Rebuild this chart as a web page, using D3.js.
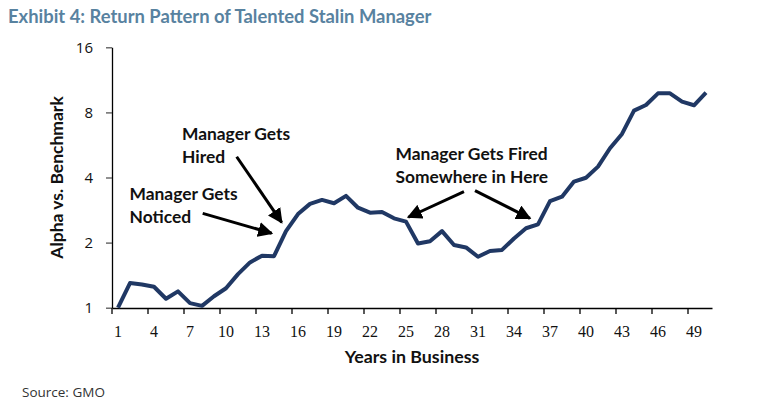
<!DOCTYPE html>
<html>
<head>
<meta charset="utf-8">
<script src="https://cdn.jsdelivr.net/npm/d3@7"></script>
<style>
  body { margin: 0; background: #fff; }
  svg { display: block; }
</style>
</head>
<body>
<div class="chart-container"><svg id="chart"></svg></div>
<script>
// years 1..50 in business
const years = d3.range(1, 51);
// cumulative alpha vs benchmark (log scale)
const alpha = [
    1.00, 1.30, 1.28, 1.25, 1.10, 1.19, 1.05, 1.02, 1.13, 1.23,
    1.43, 1.62, 1.74, 1.73, 2.26, 2.71, 3.02, 3.15, 3.04, 3.29,
    2.90, 2.75, 2.77, 2.59, 2.50, 1.98, 2.03, 2.26, 1.95, 1.90,
    1.72, 1.83, 1.85, 2.09, 2.33, 2.43, 3.11, 3.26, 3.83, 3.99,
    4.49, 5.46, 6.36, 8.15, 8.66, 9.80, 9.80, 8.97, 8.63, 9.87
];
const yTicks = [1, 2, 4, 8, 16];
const xTickYears = years.filter(d => (d - 1) % 3 === 0);

// annotations: text lines anchored at (year, value) of the first baseline
const notes = [
    { lines: ["Manager Gets", "Hired"], year: 6.33, value: 5.96 },
    { lines: ["Manager Gets", "Noticed"], year: 1.96, value: 3.15 },
    { lines: ["Manager Gets Fired", "Somewhere in Here"], year: 24.13, value: 4.82 }
];
// arrows as [fromYear, fromValue, toYear, toValue]
const arrows = [
    [10.89, 4.99, 14.64, 2.48],   // hired
    [8.06, 2.73, 13.81, 2.21],    // noticed
    [29.83, 3.44, 25.19, 2.62],   // fired, left
    [30.75, 3.48, 35.33, 2.59]    // fired, right
];

const width = 775;
const height = 415;
const marginTop = 47;
const marginRight = 63;
const marginBottom = 107;
const marginLeft = 112;

const svg = d3.select('#chart')
    .attr('width', width)
    .attr('height', height)
    .attr('viewBox', `0 0 ${width} ${height}`);

const x = d3.scaleBand()
    .domain(years)
    .range([marginLeft, width - marginRight])
    .padding(0);

// continuous helper for annotation positions (year -> pixel at band centre)
const xc = d3.scaleLinear()
    .domain([1, 50])
    .range([x(1) + x.bandwidth() / 2, x(50) + x.bandwidth() / 2]);

const y = d3.scaleLog()
    .base(2)
    .domain([1, 16])
    .range([height - marginBottom - 0.3, marginTop + 0.3]);

// title
svg.append("text")
    .attr("x", 8)
    .attr("y", 23)
    .attr("fill", "#5882a0")
    .attr("font-family", "Lato, 'Open Sans', sans-serif")
    .attr("font-weight", "bold")
    .attr("font-size", 18.4)
    .text("Exhibit 4: Return Pattern of Talented Stalin Manager");

// y axis
svg.append("g")
    .attr("transform", `translate(${marginLeft},0)`)
    .call(d3.axisLeft(y).tickValues(yTicks).tickFormat(d3.format("d")).tickSize(6).tickSizeOuter(0))
    .call(g => g.select(".domain").attr("stroke", "#000").attr("stroke-width", 1.3))
    .call(g => g.selectAll(".tick line").attr("stroke", "#555").attr("stroke-width", 1.3))
    .call(g => g.selectAll(".tick text")
        .attr("x", -19)
        .attr("fill", "#111")
        .attr("font-family", "'Open Sans', sans-serif")
        .attr("font-size", 15));

// x axis: labels at band centres, tick marks at band edges
const xAxis = svg.append("g")
    .attr("transform", `translate(0,${height - marginBottom})`)
    .call(d3.axisBottom(x).tickValues(xTickYears).tickSize(0).tickPadding(18))
    .call(g => g.select(".domain").attr("stroke", "#000").attr("stroke-width", 1.3))
    .call(g => g.selectAll(".tick text")
        .attr("fill", "#111")
        .attr("font-family", "'Liberation Serif', serif")
        .attr("font-size", 16));

xAxis.selectAll(".edge")
    .data(xTickYears)
    .join("line")
    .attr("class", "edge")
    .attr("x1", d => x(d))
    .attr("x2", d => x(d))
    .attr("y1", 0)
    .attr("y2", 6)
    .attr("stroke", "#000")
    .attr("stroke-width", 1.3);

// axis titles
svg.append("text")
    .attr("transform", `translate(63,${(marginTop + height - marginBottom) / 2}) rotate(-90)`)
    .attr("text-anchor", "middle")
    .attr("font-family", "Lato, 'Open Sans', sans-serif")
    .attr("font-weight", "bold")
    .attr("font-size", 17.5)
    .attr("fill", "#111")
    .text("Alpha vs. Benchmark");

svg.append("text")
    .attr("x", (marginLeft + width - marginRight) / 2)
    .attr("y", 363)
    .attr("text-anchor", "middle")
    .attr("font-family", "Lato, 'Open Sans', sans-serif")
    .attr("font-weight", "bold")
    .attr("font-size", 17.8)
    .attr("fill", "#111")
    .text("Years in Business");

svg.append("text")
    .attr("x", 22)
    .attr("y", 397)
    .attr("font-family", "'Open Sans', sans-serif")
    .attr("font-size", 13.5)
    .attr("fill", "#333")
    .text("Source: GMO");

// the line
const line = d3.line()
    .x((d, i) => x(years[i]) + x.bandwidth() / 2)
    .y(d => y(d));

svg.append("path")
    .datum(alpha)
    .attr("fill", "none")
    .attr("stroke", "#203864")
    .attr("stroke-width", 4)
    .attr("stroke-linejoin", "round")
    .attr("d", line);

// arrows
svg.append("defs").append("marker")
    .attr("id", "head")
    .attr("viewBox", "0 0 10 10")
    .attr("refX", 9)
    .attr("refY", 5)
    .attr("markerWidth", 5)
    .attr("markerHeight", 5)
    .attr("markerUnits", "strokeWidth")
    .attr("orient", "auto")
    .append("path")
    .attr("d", "M0,0L10,5L0,10Z")
    .attr("fill", "#000");

svg.append("g")
    .selectAll("line")
    .data(arrows)
    .join("line")
    .attr("x1", d => xc(d[0]))
    .attr("y1", d => y(d[1]))
    .attr("x2", d => xc(d[2]))
    .attr("y2", d => y(d[3]))
    .attr("stroke", "#000")
    .attr("stroke-width", 3)
    .attr("marker-end", "url(#head)");

// annotation text
const note = svg.append("g")
    .selectAll("text")
    .data(notes)
    .join("text")
    .attr("font-family", "Lato, 'Open Sans', sans-serif")
    .attr("font-weight", "bold")
    .attr("font-size", 17.4)
    .attr("fill", "#111")
    .attr("x", d => xc(d.year))
    .attr("y", d => y(d.value));

note.selectAll("tspan")
    .data(d => d.lines.map(l => ({ l, x: xc(d.year) })))
    .join("tspan")
    .attr("x", d => d.x)
    .attr("dy", (d, i) => i === 0 ? 0 : 23)
    .text(d => d.l);
</script>
</body>
</html>
